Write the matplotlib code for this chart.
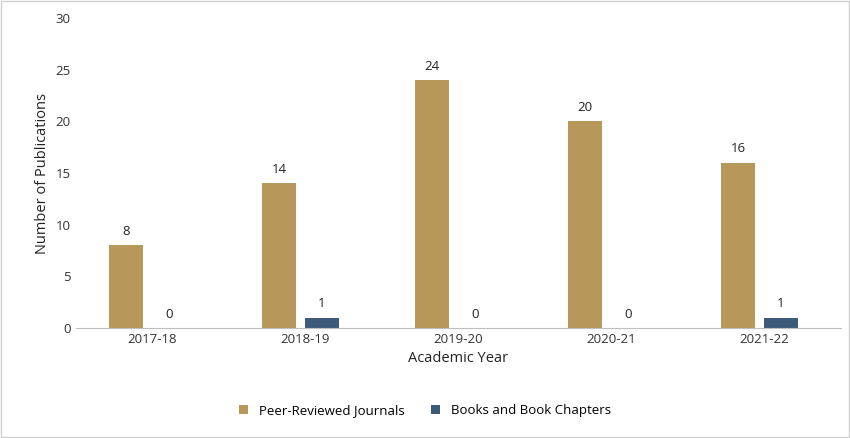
import numpy as np
import matplotlib.pyplot as plt

plt.rcParams['font.family'] = 'Open Sans'

years = ['2017-18', '2018-19', '2019-20', '2020-21', '2021-22']
journals = [8, 14, 24, 20, 16]
books = [0, 1, 0, 0, 1]

fig = plt.figure(figsize=(8.5, 4.38), dpi=100)
fig.patches.append(plt.Rectangle((0.001, 0.002), 0.998, 0.996, transform=fig.transFigure,
                                 fill=False, edgecolor='#d0d0d0', linewidth=1))
ax = fig.add_axes([0.089, 0.251, 0.9, 0.708])

x = np.arange(len(years))
w = 0.22
b1 = ax.bar(x - 0.17, journals, w, color='#B8985A', label='Peer-Reviewed Journals')
b2 = ax.bar(x + 0.11, books, w, color='#3E5A7A', label='Books and Book Chapters')
for bars in (b1, b2):
    for r in bars:
        ax.text(r.get_x() + r.get_width() / 2, r.get_height() + 0.7, str(int(r.get_height())),
                ha='center', va='bottom', fontsize=9.5, color='#222222')

ax.set_xlim(-0.5, 4.5)
ax.set_ylim(0, 30)
ax.set_yticks(range(0, 31, 5))
ax.set_xticks(x)
ax.set_xticklabels(years)
ax.tick_params(length=0, labelsize=9.5, colors='#333333')
for s in ['top', 'right', 'left']:
    ax.spines[s].set_visible(False)
ax.spines['bottom'].set_color('#bfbfbf')
ax.set_xlabel('Academic Year', fontsize=10.5, color='#222222')
ax.set_ylabel('Number of Publications', fontsize=10.5, color='#222222')
fig.legend(loc='lower center', bbox_to_anchor=(0.5, 0.02), ncol=2, frameon=False,
           fontsize=9.5, handlelength=0.7, handleheight=0.7, columnspacing=2)
fig.savefig('out.png', dpi=100)
